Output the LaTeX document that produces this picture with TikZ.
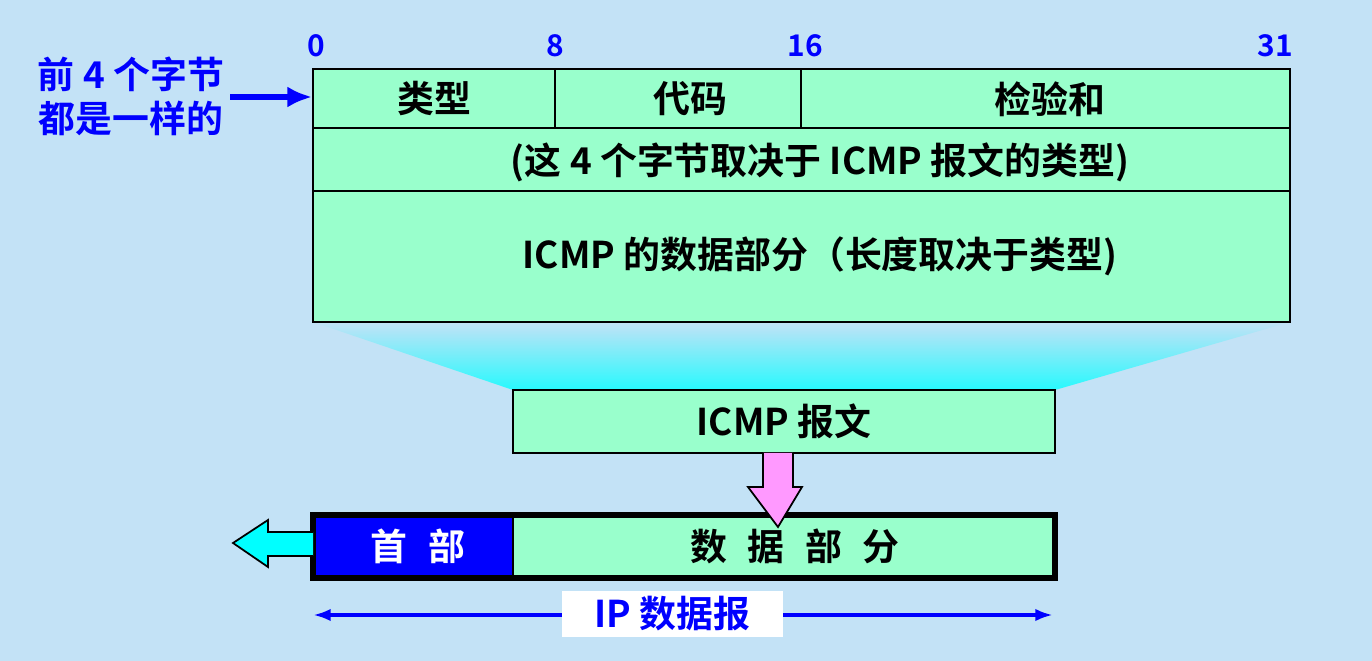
\documentclass[tikz,border=0pt]{standalone}
\usepackage{fontspec}
\setmainfont{Noto Sans CJK SC}[BoldFont={Noto Sans CJK SC Bold}]
\usetikzlibrary{positioning, arrows.meta}
\definecolor{bgblue}{HTML}{C3E2F6}
\definecolor{cellgreen}{HTML}{99FFCC}
\definecolor{pinkarrow}{HTML}{FF99FF}
\definecolor{aqua}{HTML}{00FFFF}
\newcommand{\gap}{\hspace{0.55em}}
\tikzset{
  cell/.style={draw=black, fill=cellgreen, line width=1pt},
  lbl/.style={font=\bfseries\fontsize{21}{24}\selectfont},
  bitno/.style={font=\bfseries\fontsize{17}{19}\selectfont, text=blue},
}
\begin{document}
\begin{tikzpicture}[x=0.02cm, y=-0.02cm]
\fill [bgblue] (0, 0) rectangle (1372, 661);
\useasboundingbox (0, 0) rectangle (1372, 661);
% funnel
\shade [top color=bgblue, bottom color=aqua!80!bgblue] (313, 322) -- (1290, 322) -- (1055, 390) -- (513, 390) -- cycle;
% ICMP header and data
\draw [cell] (313, 69) rectangle (1290, 322);
\draw [line width=1pt] (313, 128) -- (1290, 128);
\draw [line width=1pt] (313, 191) -- (1290, 191);
\draw [line width=1pt] (555, 69) -- (555, 128);
\draw [line width=1pt] (801, 69) -- (801, 128);
\node [lbl] (type) at (434, 99) {类型};
\node [lbl] (code) at (690, 99) {代码};
\node [lbl] (cksum) at (1050, 99) {检验和};
\node [lbl] (rest) at (820, 162) {(这 4 个字节取决于 ICMP 报文的类型)};
\node [lbl] (data) at (820, 256) {ICMP 的数据部分（长度取决于类型)};
\node [bitno] (b0) at (316, 46) {0};
\node [bitno] (b8) at (555, 46) {8};
\node [bitno] (b16) at (805, 46) {16};
\node [bitno] (b31) at (1275, 46) {31};
% note on the left
\node [text=blue, align=center, font=\bfseries\fontsize{21}{25}\selectfont] (note) at (131, 96) {前 4 个字节\\都是一样的};
\coordinate (hdr) at (312, 97);
\draw [blue, line width=3pt, -{Latex[length=14pt, width=12pt]}] (note.east |- hdr) -- (hdr);
% ICMP message
\node [cell, lbl, minimum width=542*0.02cm, minimum height=63*0.02cm] (msg) at (784, 421.5) {ICMP 报文};
% IP datagram
\node [draw=black, fill=cellgreen, line width=3pt, minimum width=742*0.02cm, minimum height=63*0.02cm] (ip) at (684, 546.5) {};
\fill [blue] (315, 517) rectangle (513, 576);
\draw [line width=1pt] (513, 517) -- (513, 576);
\draw [line width=3pt] (313, 515) rectangle (1055, 578);
\node [lbl, text=white] (head) at (418, 546) {首\gap 部};
\node [lbl] (payload) at (795, 546) {数\gap 据\gap 部\gap 分};
% pink arrow
\draw [fill=pinkarrow, line width=1pt] (763, 453) -- (763, 487) -- (748, 487) -- (778, 527) -- (802, 487) -- (793, 487) -- (793, 453);
% cyan arrow
\draw [fill=aqua, line width=1pt] (313, 532) -- (268, 532) -- (268, 520) -- (233, 543) -- (268, 567) -- (268, 556) -- (313, 556);
% length arrow
\coordinate (lenl) at (313, 615);
\coordinate (lenr) at (1053, 615);
\draw [blue, line width=2.5pt, {Latex[length=10pt, width=7pt]}-{Latex[length=10pt, width=7pt]}] (lenl) -- (lenr);
\node [fill=white, lbl, text=blue, minimum width=221*0.02cm, minimum height=45*0.02cm] (iplbl) at (672, 614) {IP 数据报};
\end{tikzpicture}
\end{document}
